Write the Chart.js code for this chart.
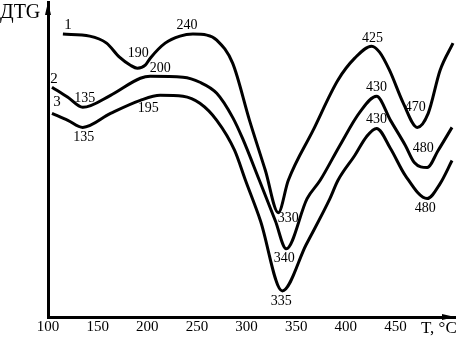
<!DOCTYPE html>
<html>
<head>
<meta charset="utf-8">
<script src="https://cdn.jsdelivr.net/npm/chart.js"></script>
<style>
  html, body { margin: 0; padding: 0; background: #fff; }
</style>
</head>
<body>
<canvas id="dtg" width="460" height="338"></canvas>
<script>
// temperatures (°C) and DTG signal (arbitrary units)
const t1   = [115, 142, 159, 172, 183, 190, 198, 203, 218, 233, 246, 260, 270, 286, 303, 319, 332, 342, 367, 392, 409, 426, 434, 444, 458, 472, 483, 495, 508];
const dtg1 = [282, 280, 273, 259, 251, 248, 251, 258, 273, 280, 282, 281, 276, 253, 196, 146, 104, 136, 186, 236, 258, 270, 264, 246, 213, 189, 203, 246, 273];

const t2   = [104, 120, 135, 163, 193, 203, 236, 253, 270, 286, 296, 313, 329, 340, 361, 374, 394, 414, 431, 445, 460, 469, 482, 493, 507];
const dtg2 = [229, 219, 209, 221, 238, 240, 239, 234, 223, 199, 178, 136, 96, 68, 118, 136, 171, 204, 220, 196, 171, 154, 149, 166, 189];

const t3   = [104, 120, 135, 163, 193, 213, 236, 253, 270, 288, 299, 314, 336, 360, 384, 392, 409, 421, 431, 445, 460, 482, 495, 507];
const dtg3 = [203, 196, 189, 203, 216, 221, 220, 213, 196, 166, 136, 96, 26, 72, 118, 136, 161, 180, 188, 168, 141, 118, 133, 156];

// peak labels: index of the point in each series and its text
const peakIdx1 = [5, 10, 16, 21, 25];
const peakTxt1 = ['190', '240', '330', '425', '470'];
const peakIdx2 = [2, 5, 13, 18, 22];
const peakTxt2 = ['135', '200', '340', '430', '480'];
const peakIdx3 = [2, 5, 12, 18, 21];
const peakTxt3 = ['135', '195', '335', '430', '480'];

const seriesNames = ['1', '2', '3'];

function pts(xs, ys) {
  return xs.map((x, i) => ({ x: x, y: ys[i] }));
}

const serif = '"Liberation Serif", "DejaVu Serif", serif';

// label offsets from their points, px
const peakOff = [
  [[1, -15], [-6, -9], [10, 6], [1, -8], [-2, -20]],
  [[2, -9], [10, -8], [-2, 10], [0, -9], [-4, -19]],
  [[1, 10], [-12, 13], [-1, 10], [0, -9], [-2, 10]]
];
const nameOff = [[5, -9], [2, -8], [5, -11]];

const notes = {
  id: 'notes',
  afterDraw(chart) {
    const c = chart.ctx;
    const a = chart.chartArea;
    const peaks = [[peakIdx1, peakTxt1], [peakIdx2, peakTxt2], [peakIdx3, peakTxt3]];
    c.save();
    c.fillStyle = '#000';
    c.textAlign = 'center';
    c.textBaseline = 'middle';
    c.font = '14px ' + serif;
    peaks.forEach((p, i) => {
      const el = chart.getDatasetMeta(i).data;
      p[0].forEach((k, j) => {
        c.fillText(p[1][j], el[k].x + peakOff[i][j][0], el[k].y + peakOff[i][j][1]);
      });
      c.font = '15px ' + serif;
      c.fillText(seriesNames[i], el[0].x + nameOff[i][0], el[0].y + nameOff[i][1]);
      c.font = '14px ' + serif;
    });

    // axis names
    c.textAlign = 'left';
    c.font = '20px ' + serif;
    c.fillText('ДТG', 0, 13);
    c.font = '17px ' + serif;
    c.fillText('T, °C', 421, 329);

    // arrow heads
    c.beginPath();
    c.moveTo(a.right, a.bottom);
    c.lineTo(a.right - 13, a.bottom - 3);
    c.lineTo(a.right - 13, a.bottom + 3);
    c.closePath();
    c.fill();
    c.beginPath();
    c.moveTo(a.left, a.top);
    c.lineTo(a.left - 3, a.top + 13);
    c.lineTo(a.left + 3, a.top + 13);
    c.closePath();
    c.fill();
    c.restore();
  }
};

const lineStyle = {
  borderColor: '#000',
  borderWidth: 3,
  pointRadius: 0,
  fill: false,
  cubicInterpolationMode: 'monotone'
};

new Chart(document.getElementById('dtg'), {
  type: 'line',
  data: {
    datasets: [
      Object.assign({ label: '1', data: pts(t1, dtg1) }, lineStyle),
      Object.assign({ label: '2', data: pts(t2, dtg2) }, lineStyle),
      Object.assign({ label: '3', data: pts(t3, dtg3) }, lineStyle)
    ]
  },
  options: {
    responsive: false,
    animation: false,
    layout: {
      padding: { left: 48, right: 5, top: 2, bottom: 0 }
    },
    plugins: {
      legend: { display: false },
      tooltip: { enabled: false }
    },
    scales: {
      x: {
        type: 'linear',
        min: 100,
        max: 510,
        grid: { display: false, drawTicks: false },
        border: { display: true, color: '#000', width: 3 },
        ticks: {
          stepSize: 50,
          padding: 3,
          color: '#000',
          font: { family: serif, size: 15, lineHeight: 1 },
          maxRotation: 0,
          callback: (v) => (v <= 450 ? String(v) : '')
        }
      },
      y: {
        min: 0,
        max: 314,
        grid: { display: false, drawTicks: false },
        border: { display: true, color: '#000', width: 3 },
        ticks: { display: false }
      }
    }
  },
  plugins: [notes]
});
</script>
</body>
</html>
